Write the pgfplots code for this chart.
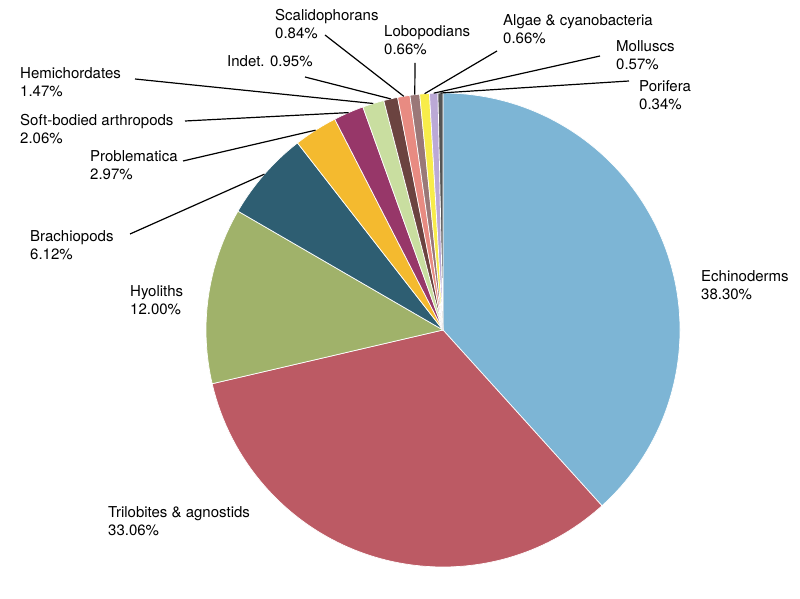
\documentclass[border=0pt]{standalone}
\usepackage{pgfplots}
\pgfplotsset{compat=1.18}
\usepackage{pgfplotstable}
\usepackage{fontspec}
\setmainfont{TeX Gyre Heros}

\definecolor{cEch}{HTML}{7DB5D5}
\definecolor{cTri}{HTML}{BC5A64}
\definecolor{cHyo}{HTML}{A0B26A}
\definecolor{cBra}{HTML}{2E5E72}
\definecolor{cPro}{HTML}{F4BA2F}
\definecolor{cSof}{HTML}{973769}
\definecolor{cHem}{HTML}{C9DEA0}
\definecolor{cInd}{HTML}{6B4340}
\definecolor{cSca}{HTML}{E88B82}
\definecolor{cLob}{HTML}{9A7878}
\definecolor{cAlg}{HTML}{F8EC4A}
\definecolor{cMol}{HTML}{BBA9D6}
\definecolor{cPor}{HTML}{555555}

% share (%), colour, label, label position (px from top-left), one-line flag, leader start (px)
\pgfplotstableread[col sep=comma]{
value,col,name,lx,ly,single,ax,ay
38.30,cEch,Echinoderms,701,282,0,-1,-1
33.06,cTri,Trilobites \& agnostids,108,518,0,-1,-1
12.00,cHyo,Hyoliths,130,297,0,-1,-1
6.12,cBra,Brachiopods,30,242,0,130,234
2.97,cPro,Problematica,90,162,0,183,161
2.06,cSof,Soft-bodied arthropods,20,126,0,185,121
1.47,cHem,Hemichordates,20,79,0,135,79
0.95,cInd,Indet.,227,67,1,305,77
0.84,cSca,Scalidophorans,275,21,0,325,35
0.66,cLob,Lobopodians,384,37,0,415,63
0.66,cAlg,Algae \& cyanobacteria,503,26,0,497,51
0.57,cMol,Molluscs,616,52,0,600,56
0.34,cPor,Porifera,639,92,0,629,81
}\piedata

\begin{document}
\begin{tikzpicture}
\begin{axis}[
    width=800pt, height=599pt, scale only axis,
    xmin=0, xmax=800, ymin=0, ymax=599,
    hide axis, clip=false,
]
\path (axis cs:0,0) (axis cs:800,599);
\pgfplotstablegetrowsof{\piedata}
\pgfmathtruncatemacro\lastrow{\pgfplotsretval-1}
\gdef\cum{0}
\pgfplotsinvokeforeach{0,...,\lastrow}{
  \pgfplotstablegetelem{#1}{value}\of\piedata \let\pv\pgfplotsretval
  \pgfplotstablegetelem{#1}{col}\of\piedata \let\pcol\pgfplotsretval
  \pgfmathsetmacro\aA{90-3.6*\cum}
  \pgfmathsetmacro\aB{90-3.6*(\cum+\pv)}
  \pgfmathsetmacro\newcum{\cum+\pv}
  \xdef\cum{\newcum}
  \edef\cmd{\noexpand\fill[fill=\pcol,draw=white,line width=0.7pt,line join=round]
    (axis cs:443,269) -- ++(\aA:237pt) arc[start angle=\aA,end angle=\aB,radius=237pt] -- cycle;}
  \cmd
}
\gdef\cum{0}
\pgfplotsinvokeforeach{0,...,\lastrow}{
  \pgfplotstablegetelem{#1}{value}\of\piedata \let\pv\pgfplotsretval
  \pgfplotstablegetelem{#1}{name}\of\piedata \let\pname\pgfplotsretval
  \pgfplotstablegetelem{#1}{lx}\of\piedata \let\lx\pgfplotsretval
  \pgfplotstablegetelem{#1}{ly}\of\piedata \let\ly\pgfplotsretval
  \pgfplotstablegetelem{#1}{single}\of\piedata \let\single\pgfplotsretval
  \pgfplotstablegetelem{#1}{ax}\of\piedata \let\ax\pgfplotsretval
  \pgfplotstablegetelem{#1}{ay}\of\piedata \let\ay\pgfplotsretval
  \pgfmathsetmacro\aM{90-3.6*(\cum+\pv/2)}
  \pgfmathsetmacro\newcum{\cum+\pv}
  \xdef\cum{\newcum}
  \pgfmathsetmacro\lyy{599-\ly}
  \pgfmathsetmacro\lyb{599-\ly-17.5}
  \pgfmathsetmacro\ayy{599-\ay}
  \ifnum\ax>-1
    \edef\cmd{\noexpand\draw[black,line width=1.2pt]
      (axis cs:443,269) ++(\aM:237pt) -- (axis cs:\ax,\ayy);}
    \cmd
  \fi
  \ifnum\single=1
    \edef\cmd{\noexpand\node[anchor=base west,inner sep=0pt,font=\noexpand\fontsize{15}{18}\noexpand\selectfont]
      at (axis cs:\lx,\lyy) {\unexpanded\expandafter{\pname} \pv\noexpand\%};}
    \cmd
  \else
    \edef\cmd{\noexpand\node[anchor=base west,inner sep=0pt,font=\noexpand\fontsize{15}{18}\noexpand\selectfont]
      at (axis cs:\lx,\lyy) {\unexpanded\expandafter{\pname}};
      \noexpand\node[anchor=base west,inner sep=0pt,font=\noexpand\fontsize{15}{18}\noexpand\selectfont]
      at (axis cs:\lx,\lyb) {\pv\noexpand\%};}
    \cmd
  \fi
}
\end{axis}
\end{tikzpicture}
\end{document}
